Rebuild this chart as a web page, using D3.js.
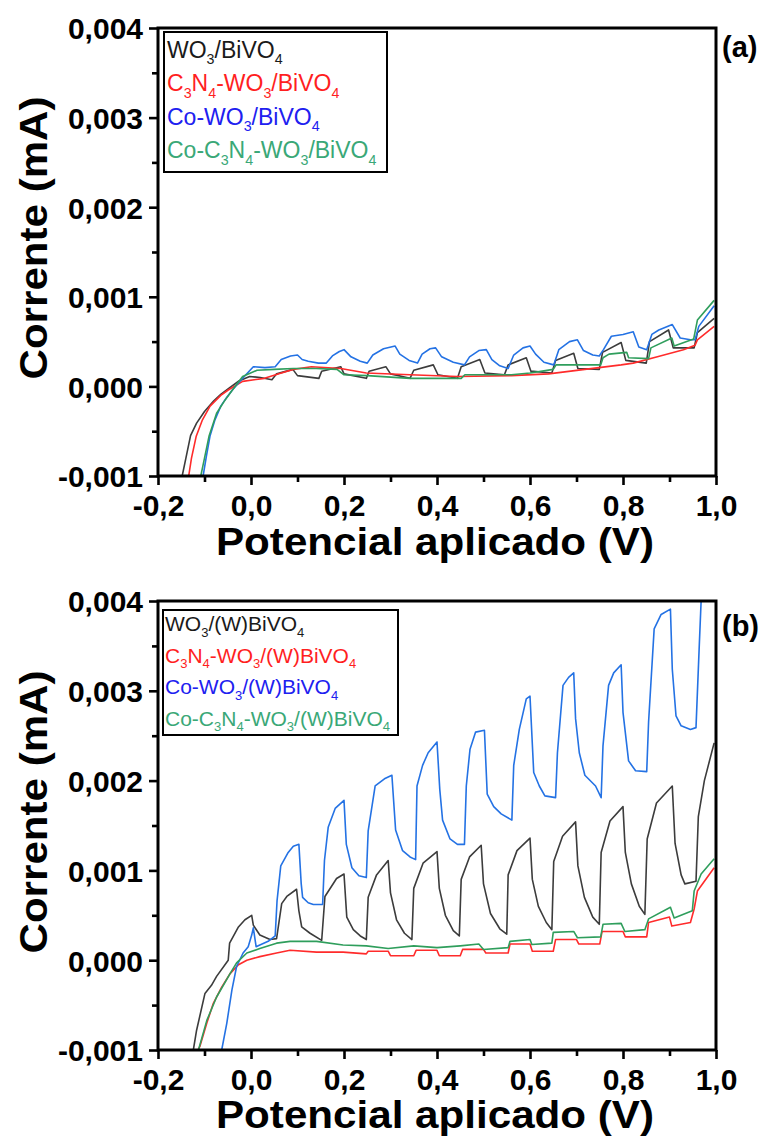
<!DOCTYPE html>
<html>
<head>
<meta charset="utf-8">
<script src="https://cdn.jsdelivr.net/npm/d3@7"></script>
<style>
  html, body { margin: 0; padding: 0; background: #fff; }
  svg { display: block; }
  text { font-family: "Liberation Sans", Arial, sans-serif; }
</style>
</head>
<body>
<div id="chart"></div>
<script>
// ---------------- DATA ----------------
const xMajorTicks = [-0.2, 0.0, 0.2, 0.4, 0.6, 0.8, 1.0];
const xMinorTicks = [-0.1, 0.1, 0.3, 0.5, 0.7, 0.9];
const yMajorTicks = [-0.001, 0.000, 0.001, 0.002, 0.003, 0.004];
const yMinorTicks = [-0.0005, 0.0005, 0.0015, 0.0025, 0.0035];
const xTitle = "Potencial aplicado (V)";
const yTitle = "Corrente (mA)";

// legend labels ("_" marks a subscript character)
const legendA = ["WO_3/BiVO_4", "C_3N_4-WO_3/BiVO_4", "Co-WO_3/BiVO_4", "Co-C_3N_4-WO_3/BiVO_4"];
const legendB = ["WO_3/(W)BiVO_4", "C_3N_4-WO_3/(W)BiVO_4", "Co-WO_3/(W)BiVO_4", "Co-C_3N_4-WO_3/(W)BiVO_4"];

// Panel (a) series: [potential V, current mA]
const aWO3 = [[-0.148,-0.00100],[-0.140,-0.00080],[-0.130,-0.00055],[-0.117,-0.00041],[-0.100,-0.00028],[-0.080,-0.00016],[-0.065,-0.00009],[-0.045,-0.00001],[-0.026,0.00006],[-0.003,0.00011],[0.020,0.00010],[0.045,0.000075],[0.055,0.00014],[0.090,0.00019],[0.100,0.00012],[0.146,0.00009],[0.152,0.00017],[0.193,0.00022],[0.200,0.00014],[0.248,0.00009],[0.254,0.00017],[0.290,0.00022],[0.300,0.00014],[0.342,0.00009],[0.350,0.00018],[0.392,0.00024],[0.402,0.00013],[0.444,0.00009],[0.452,0.00022],[0.492,0.00030],[0.503,0.00015],[0.545,0.00013],[0.553,0.00024],[0.592,0.00032],[0.602,0.00017],[0.647,0.00015],[0.655,0.00029],[0.694,0.00037],[0.703,0.00020],[0.749,0.00019],[0.756,0.00038],[0.796,0.00049],[0.806,0.00029],[0.850,0.00026],[0.857,0.00050],[0.898,0.00063],[0.908,0.00043],[0.953,0.00043],[0.960,0.00060],[0.996,0.00076]];
const aC3N4 = [[-0.134,-0.00100],[-0.128,-0.00080],[-0.118,-0.00056],[-0.105,-0.00038],[-0.088,-0.00022],[-0.065,-0.00010],[-0.049,-0.00004],[-0.018,0.000056],[0.029,0.00009],[0.060,0.00014],[0.091,0.00019],[0.130,0.00022],[0.193,0.00020],[0.248,0.00015],[0.342,0.00013],[0.444,0.00011],[0.560,0.00012],[0.640,0.00014],[0.718,0.00019],[0.796,0.00024],[0.822,0.00026],[0.874,0.00033],[0.930,0.00041],[0.955,0.00046],[0.960,0.00052],[0.996,0.00067]];
const aCo = [[-0.103,-0.00100],[-0.096,-0.00078],[-0.088,-0.00055],[-0.078,-0.00038],[-0.065,-0.00022],[-0.052,-0.00012],[-0.040,-0.00004],[-0.018,0.00009],[0.005,0.00022],[0.030,0.00021],[0.052,0.00022],[0.065,0.00030],[0.085,0.00034],[0.100,0.00035],[0.110,0.00030],[0.123,0.00028],[0.145,0.00026],[0.162,0.00026],[0.175,0.00034],[0.190,0.00039],[0.200,0.00041],[0.215,0.00033],[0.235,0.00028],[0.250,0.00026],[0.262,0.00035],[0.285,0.00042],[0.310,0.00045],[0.320,0.00036],[0.340,0.00029],[0.358,0.00026],[0.368,0.00036],[0.385,0.00042],[0.397,0.00043],[0.410,0.00033],[0.435,0.00027],[0.459,0.00024],[0.470,0.00033],[0.490,0.00040],[0.506,0.00041],[0.518,0.00030],[0.535,0.00023],[0.553,0.00020],[0.565,0.00035],[0.585,0.00043],[0.600,0.00045],[0.612,0.00036],[0.630,0.00027],[0.651,0.00024],[0.662,0.00041],[0.685,0.00050],[0.702,0.00052],[0.715,0.00040],[0.735,0.00035],[0.749,0.00034],[0.758,0.00041],[0.775,0.00056],[0.800,0.00058],[0.822,0.00061],[0.834,0.00044],[0.851,0.00041],[0.862,0.00058],[0.877,0.00063],[0.906,0.00069],[0.923,0.00054],[0.945,0.00052],[0.955,0.00052],[0.963,0.00067],[0.996,0.00090]];
const aCoC3N4 = [[-0.108,-0.00100],[-0.100,-0.00080],[-0.090,-0.00055],[-0.074,-0.00030],[-0.058,-0.00017],[-0.040,-0.00004],[-0.018,0.00011],[0.013,0.00018],[0.050,0.00019],[0.091,0.00020],[0.140,0.00020],[0.185,0.00019],[0.200,0.00013],[0.250,0.00012],[0.342,0.00009],[0.452,0.00009],[0.460,0.00013],[0.560,0.00013],[0.600,0.00015],[0.650,0.00019],[0.656,0.00024],[0.752,0.00024],[0.757,0.00032],[0.770,0.00036],[0.808,0.00038],[0.812,0.00032],[0.855,0.00031],[0.860,0.00043],[0.905,0.00054],[0.910,0.00045],[0.952,0.00053],[0.960,0.00074],[0.996,0.00096]];

// Panel (b) series
const bWO3 = [[-0.124,-0.00100],[-0.117,-0.00078],[-0.099,-0.00037],[-0.085,-0.00028],[-0.074,-0.00018],[-0.049,0.00000],[-0.046,0.00019],[-0.027,0.00037],[-0.013,0.00045],[0.0015,0.00050],[0.005,0.00039],[0.019,0.00028],[0.041,0.00023],[0.055,0.00024],[0.066,0.00063],[0.077,0.00071],[0.098,0.00079],[0.103,0.00055],[0.109,0.00037],[0.127,0.00030],[0.152,0.00022],[0.159,0.00071],[0.184,0.00091],[0.200,0.00096],[0.206,0.00048],[0.220,0.00034],[0.235,0.00027],[0.248,0.00023],[0.252,0.00070],[0.270,0.00095],[0.295,0.00111],[0.300,0.00075],[0.313,0.00045],[0.330,0.00030],[0.346,0.00023],[0.350,0.00080],[0.370,0.00108],[0.400,0.00121],[0.405,0.00080],[0.418,0.00050],[0.435,0.00033],[0.448,0.00027],[0.452,0.00090],[0.470,0.00115],[0.495,0.00128],[0.500,0.00085],[0.515,0.00052],[0.535,0.00035],[0.550,0.00029],[0.553,0.00095],[0.572,0.00122],[0.600,0.00136],[0.605,0.00090],[0.618,0.00060],[0.635,0.00042],[0.647,0.00034],[0.651,0.00110],[0.670,0.00138],[0.698,0.00154],[0.703,0.00105],[0.717,0.00070],[0.735,0.00048],[0.749,0.00040],[0.753,0.00120],[0.772,0.00155],[0.800,0.00171],[0.805,0.00120],[0.818,0.00085],[0.835,0.00060],[0.847,0.00051],[0.852,0.00135],[0.872,0.00175],[0.906,0.00194],[0.912,0.00130],[0.925,0.00095],[0.933,0.00085],[0.957,0.00088],[0.962,0.00160],[0.975,0.00200],[0.996,0.00242]];
const bC3N4 = [[-0.114,-0.00100],[-0.110,-0.00096],[-0.095,-0.00070],[-0.081,-0.00048],[-0.063,-0.00030],[-0.045,-0.00015],[-0.027,-0.00005],[-0.009,0.00000],[0.019,0.00004],[0.055,0.00008],[0.084,0.00011],[0.141,0.00009],[0.198,0.00009],[0.248,0.00007],[0.252,0.00010],[0.295,0.00010],[0.300,0.00005],[0.350,0.00005],[0.355,0.00011],[0.400,0.00011],[0.405,0.00005],[0.450,0.00005],[0.455,0.00012],[0.500,0.00012],[0.505,0.00008],[0.553,0.00008],[0.557,0.00018],[0.600,0.00018],[0.605,0.00010],[0.650,0.00010],[0.655,0.00023],[0.700,0.00023],[0.705,0.00018],[0.750,0.00018],[0.755,0.00032],[0.800,0.00032],[0.805,0.00026],[0.851,0.00026],[0.855,0.00042],[0.900,0.00048],[0.905,0.00038],[0.945,0.00042],[0.953,0.00057],[0.960,0.00077],[0.996,0.00103]];
const bCo = [[-0.063,-0.00100],[-0.052,-0.00070],[-0.041,-0.00033],[-0.031,-0.00007],[-0.017,0.00008],[-0.006,0.00015],[0.0015,0.00028],[0.005,0.00036],[0.011,0.00015],[0.019,0.00017],[0.037,0.00021],[0.052,0.00027],[0.056,0.00066],[0.064,0.00105],[0.080,0.00120],[0.091,0.00127],[0.103,0.00129],[0.108,0.00085],[0.111,0.00070],[0.123,0.00064],[0.134,0.00062],[0.154,0.00062],[0.158,0.00111],[0.166,0.00148],[0.181,0.00169],[0.200,0.00178],[0.205,0.00129],[0.217,0.00103],[0.232,0.00094],[0.248,0.00092],[0.252,0.00144],[0.267,0.00194],[0.287,0.00202],[0.303,0.00206],[0.311,0.00145],[0.326,0.00122],[0.342,0.00115],[0.354,0.00112],[0.357,0.00194],[0.369,0.00217],[0.381,0.00231],[0.400,0.00243],[0.406,0.00190],[0.412,0.00156],[0.428,0.00135],[0.444,0.00129],[0.459,0.00129],[0.463,0.00194],[0.471,0.00235],[0.483,0.00254],[0.502,0.00256],[0.508,0.00185],[0.522,0.00171],[0.538,0.00163],[0.561,0.00156],[0.565,0.00217],[0.577,0.00257],[0.592,0.00291],[0.600,0.00294],[0.608,0.00209],[0.620,0.00194],[0.632,0.00183],[0.655,0.00181],[0.659,0.00231],[0.671,0.00306],[0.683,0.00315],[0.694,0.00320],[0.698,0.00269],[0.706,0.00231],[0.718,0.00206],[0.741,0.00194],[0.753,0.00181],[0.757,0.00239],[0.769,0.00306],[0.780,0.00320],[0.796,0.00329],[0.800,0.00276],[0.812,0.00222],[0.827,0.00211],[0.851,0.00210],[0.855,0.00265],[0.867,0.00369],[0.882,0.00385],[0.902,0.00391],[0.906,0.00324],[0.914,0.00272],[0.925,0.00261],[0.945,0.00257],[0.957,0.00259],[0.964,0.00350],[0.968,0.00400],[0.980,0.00460]];
const bCoC3N4 = [[-0.113,-0.00100],[-0.095,-0.00067],[-0.074,-0.00041],[-0.045,-0.00015],[-0.031,-0.00003],[-0.009,0.00008],[0.019,0.00013],[0.055,0.00019],[0.084,0.00021],[0.141,0.00021],[0.198,0.00017],[0.248,0.00016],[0.295,0.00013],[0.350,0.00016],[0.400,0.00014],[0.450,0.00016],[0.490,0.00018],[0.500,0.00012],[0.553,0.00014],[0.557,0.00021],[0.600,0.00023],[0.604,0.000175],[0.647,0.00019],[0.650,0.00031],[0.694,0.00032],[0.702,0.00025],[0.752,0.00026],[0.757,0.00040],[0.796,0.00041],[0.804,0.00032],[0.847,0.00034],[0.855,0.00046],[0.902,0.00059],[0.910,0.00047],[0.949,0.00055],[0.953,0.00077],[0.968,0.00096],[0.996,0.00113]];

const lineColors = ["#3c3c3c", "#ff2b2b", "#2472e4", "#2f9e5c"];
const textColors = ["#1a1a1a", "#ff1f1f", "#2020f0", "#3aa877"];

// ---------------- LAYOUT ----------------
const W = 771, H = 1146;
const svg = d3.select("#chart").append("svg").attr("width", W).attr("height", H);

const panels = [
  { id: "a", top: 28, bottom: 476, series: [aWO3, aC3N4, aCo, aCoC3N4], legend: legendA,
    leg: { x: 164, y: 32, w: 223, h: 140, tx: 167, base: 58, step: 33.4, fs: 23 },
    label: "(a)", labelY: 57, yTitleC: 238, xLabY: 516, xTitleY: 555 },
  { id: "b", top: 601, bottom: 1050, series: [bWO3, bC3N4, bCo, bCoC3N4], legend: legendB,
    leg: { x: 163, y: 610, w: 235, h: 125, tx: 165, base: 631, step: 31.5, fs: 21 },
    label: "(b)", labelY: 636, yTitleC: 812, xLabY: 1090, xTitleY: 1128 }
];
const left = 158, right = 716;

const fmt = v => d3.format(".3f")(v).replace(".", ",").replace("\u2212", "-");
const fmtX = v => d3.format(".1f")(v).replace(".", ",").replace("\u2212", "-");

function addRich(textSel, label, fs) {
  const parts = [];
  for (let i = 0; i < label.length; i++) {
    if (label[i] === "_") { parts.push({ t: label[i + 1], sub: true }); i++; }
    else {
      if (parts.length && !parts[parts.length - 1].sub) parts[parts.length - 1].t += label[i];
      else parts.push({ t: label[i], sub: false });
    }
  }
  let shifted = false;
  parts.forEach(p => {
    const ts = textSel.append("tspan").text(p.t);
    if (p.sub && !shifted) { ts.attr("dy", fs * 0.28).attr("font-size", fs * 0.62); shifted = true; }
    else if (p.sub) { ts.attr("font-size", fs * 0.62); }
    else if (shifted) { ts.attr("dy", -fs * 0.28); shifted = false; }
  });
}

panels.forEach(p => {
  const x = d3.scaleLinear().domain([-0.2, 1.0]).range([left, right]);
  const y = d3.scaleLinear().domain([-0.001, 0.004]).range([p.bottom, p.top]);
  const g = svg.append("g");

  const clipId = "clip-" + p.id;
  svg.append("clipPath").attr("id", clipId).append("rect")
    .attr("x", left).attr("y", p.top).attr("width", right - left).attr("height", p.bottom - p.top);

  const line = d3.line().x(d => x(d[0])).y(d => y(d[1]));
  const curves = g.append("g").attr("clip-path", `url(#${clipId})`);
  p.series.forEach((s, i) => {
    curves.append("path").datum(s).attr("d", line)
      .attr("fill", "none").attr("stroke", lineColors[i]).attr("stroke-width", 1.6)
      .attr("stroke-linejoin", "round");
  });

  // axes (major + minor ticks, outward)
  const xAxisMaj = d3.axisBottom(x).tickValues(xMajorTicks).tickSize(9).tickFormat(fmtX);
  const xAxisMin = d3.axisBottom(x).tickValues(xMinorTicks).tickSize(6).tickFormat("");
  const yAxisMaj = d3.axisLeft(y).tickValues(yMajorTicks).tickSize(9).tickFormat(fmt);
  const yAxisMin = d3.axisLeft(y).tickValues(yMinorTicks).tickSize(6).tickFormat("");

  const styleAxis = (sel) => {
    sel.select(".domain").remove();
    sel.selectAll("line").attr("stroke", "#000").attr("stroke-width", 2.6);
    sel.selectAll("text").attr("fill", "#000").attr("font-size", 30).attr("font-weight", "bold")
      .attr("font-family", "'Liberation Sans', Arial, sans-serif");
  };
  const gx = g.append("g").attr("transform", `translate(0,${p.bottom})`).call(xAxisMaj).call(styleAxis);
  gx.selectAll("text").attr("y", null).attr("dy", null).attr("transform", null)
    .attr("y", p.xLabY - p.bottom);
  g.append("g").attr("transform", `translate(0,${p.bottom})`).call(xAxisMin).call(styleAxis);
  const gy = g.append("g").attr("transform", `translate(${left},0)`).call(yAxisMaj).call(styleAxis);
  gy.selectAll("text").attr("x", -15).attr("dy", "0.36em");
  g.append("g").attr("transform", `translate(${left},0)`).call(yAxisMin).call(styleAxis);

  // frame
  g.append("rect").attr("x", left).attr("y", p.top).attr("width", right - left).attr("height", p.bottom - p.top)
    .attr("fill", "none").attr("stroke", "#000").attr("stroke-width", 3);

  // titles
  g.append("text").attr("x", (left + right) / 2 - 2).attr("y", p.xTitleY).attr("text-anchor", "middle")
    .attr("font-size", 38).attr("font-weight", "bold").attr("fill", "#000")
    .attr("textLength", 438).attr("lengthAdjust", "spacingAndGlyphs").text(xTitle);
  g.append("text").attr("transform", `translate(47,${p.yTitleC}) rotate(-90)`).attr("text-anchor", "middle")
    .attr("font-size", 38).attr("font-weight", "bold").attr("fill", "#000")
    .attr("textLength", 283).attr("lengthAdjust", "spacingAndGlyphs").text(yTitle);

  // panel label
  g.append("text").attr("x", 722).attr("y", p.labelY).attr("font-size", 29).attr("font-weight", "bold")
    .attr("fill", "#000").text(p.label);

  // legend
  const L = p.leg;
  g.append("rect").attr("x", L.x).attr("y", L.y).attr("width", L.w).attr("height", L.h)
    .attr("fill", "#fff").attr("stroke", "#000").attr("stroke-width", 2);
  p.legend.forEach((lab, i) => {
    const t = g.append("text").attr("x", L.tx).attr("y", L.base + i * L.step)
      .attr("font-size", L.fs).attr("fill", textColors[i]);
    addRich(t, lab, L.fs);
  });
});
</script>
</body>
</html>
